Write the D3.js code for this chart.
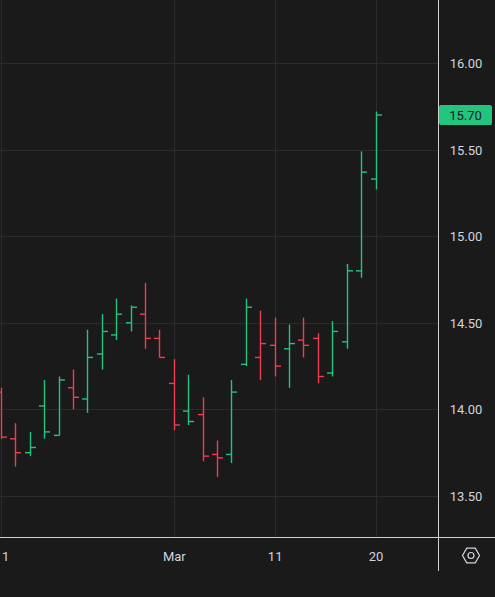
<!DOCTYPE html>
<html>
<head>
<meta charset="utf-8">
<script src="https://cdn.jsdelivr.net/npm/d3@7"></script>
<style>
  body { margin: 0; background: #1a1a1a; }
  svg { display: block; }
</style>
</head>
<body>
<div id="chart"></div>
<script>
const opens  = [14.10, 13.83, 13.75, 14.02, 13.85, 14.125, 14.06, 14.32, 14.43, 14.50, 14.55, 14.41, 14.15, 13.99, 13.97, 13.74, 13.74, 14.26, 14.30, 14.37, 14.35, 14.40, 14.41, 14.21, 14.39, 14.80, 15.33];
const highs  = [14.125, 13.92, 13.87, 14.17, 14.19, 14.23, 14.46, 14.55, 14.64, 14.60, 14.73, 14.46, 14.29, 14.20, 14.07, 13.82, 14.17, 14.64, 14.57, 14.53, 14.49, 14.53, 14.44, 14.51, 14.84, 15.49, 15.72];
const lows   = [13.83, 13.67, 13.73, 13.83, 13.85, 14.00, 13.98, 14.23, 14.40, 14.45, 14.35, 14.30, 13.88, 13.91, 13.70, 13.61, 13.69, 14.25, 14.17, 14.19, 14.125, 14.30, 14.15, 14.19, 14.35, 14.76, 15.27];
const closes = [13.84, 13.75, 13.78, 13.87, 14.17, 14.07, 14.30, 14.45, 14.55, 14.59, 14.41, 14.30, 13.91, 13.93, 13.73, 13.72, 14.10, 14.59, 14.38, 14.25, 14.38, 14.37, 14.19, 14.45, 14.80, 15.37, 15.70];
const prevClose0 = 14.20;
const timeTicks = [[0, "1"], [12, "Mar"], [19, "11"], [26, "20"]];
const priceTicks = [13.5, 14.0, 14.5, 15.0, 15.5, 16.0];

const W = 495, H = 597, plotW = 438, plotH = 537;
const up = "#22c47e", down = "#f23c50";

const svg = d3.select("#chart").append("svg").attr("width", W).attr("height", H);
svg.append("rect").attr("width", W).attr("height", H).attr("fill", "#1a1a1a");

const x = d3.scaleLinear().domain([0, 26]).range([1, 375.5]);
const y = d3.scaleLinear().domain([13.5, 16]).range([496, 63]);

const plot = svg.append("g");
plot.append("defs").append("clipPath").attr("id", "clip")
  .append("rect").attr("width", plotW).attr("height", plotH);
const g = plot.append("g").attr("clip-path", "url(#clip)");

g.selectAll(".hgrid").data(priceTicks).enter().append("line")
  .attr("x1", 0).attr("x2", plotW)
  .attr("y1", d => Math.round(y(d)) + 0.5).attr("y2", d => Math.round(y(d)) + 0.5)
  .attr("stroke", "#2b2b2b");
g.selectAll(".vgrid").data(timeTicks).enter().append("line")
  .attr("x1", d => Math.round(x(d[0])) + 0.5).attr("x2", d => Math.round(x(d[0])) + 0.5)
  .attr("y1", 0).attr("y2", plotH)
  .attr("stroke", "#2b2b2b");

const bars = opens.map((o, i) => ({
  i, o, h: highs[i], l: lows[i], c: closes[i],
  col: closes[i] >= (i ? closes[i - 1] : prevClose0) ? up : down
}));

const bg = g.selectAll(".bar").data(bars).enter().append("g")
  .attr("stroke", d => d.col).attr("stroke-width", 1.4);
bg.append("line")
  .attr("x1", d => Math.round(x(d.i)) + 0.5).attr("x2", d => Math.round(x(d.i)) + 0.5)
  .attr("y1", d => y(d.h)).attr("y2", d => y(d.l));
bg.append("line")
  .attr("x1", d => Math.round(x(d.i)) - 5).attr("x2", d => Math.round(x(d.i)) + 0.5)
  .attr("y1", d => y(d.o)).attr("y2", d => y(d.o));
bg.append("line")
  .attr("x1", d => Math.round(x(d.i)) + 0.5).attr("x2", d => Math.round(x(d.i)) + 6)
  .attr("y1", d => y(d.c)).attr("y2", d => y(d.c));

// axes separators
svg.append("line").attr("x1", 0).attr("x2", W).attr("y1", plotH + 0.5).attr("y2", plotH + 0.5)
  .attr("stroke", "#d0d0d0");
svg.append("line").attr("x1", plotW + 0.5).attr("x2", plotW + 0.5).attr("y1", 0).attr("y2", 571)
  .attr("stroke", "#d0d0d0");

svg.selectAll(".ptick").data(priceTicks).enter().append("text")
  .attr("x", 466).attr("y", d => y(d) + 5)
  .attr("text-anchor", "middle")
  .attr("fill", "#d1d4dc").attr("font-family", "Roboto, sans-serif").attr("font-size", 13)
  .text(d => d.toFixed(2));

// last price label
const last = closes[closes.length - 1];
svg.append("rect").attr("x", 439).attr("y", y(last) - 10).attr("width", 53).attr("height", 20)
  .attr("rx", 2).attr("fill", up);
svg.append("text").attr("x", 465.5).attr("y", y(last) + 5).attr("text-anchor", "middle")
  .attr("fill", "#131722").attr("font-family", "Roboto, sans-serif").attr("font-size", 13)
  .text(last.toFixed(2));

// first label sits at the left edge, so keep it fully inside
svg.selectAll(".ttick").data(timeTicks).enter().append("text")
  .attr("x", d => d[0] === 0 ? 2 : x(d[0]) + 0.5).attr("y", 561)
  .attr("text-anchor", d => d[0] === 0 ? "start" : "middle")
  .attr("fill", "#d1d4dc").attr("font-family", "Roboto, sans-serif").attr("font-size", 13)
  .text(d => d[1]);

// settings icon
const hex = d3.range(6).map(k => {
  const a = Math.PI / 3 * k;
  return [471 + 8.5 * Math.cos(a), 555.5 + 8.5 * Math.sin(a)];
});
svg.append("polygon").attr("points", hex.map(p => p.join(",")).join(" "))
  .attr("fill", "none").attr("stroke", "#d1d4dc").attr("stroke-width", 1.2);
svg.append("circle").attr("cx", 471).attr("cy", 555.5).attr("r", 3)
  .attr("fill", "none").attr("stroke", "#d1d4dc").attr("stroke-width", 1.2);
</script>
</body>
</html>
